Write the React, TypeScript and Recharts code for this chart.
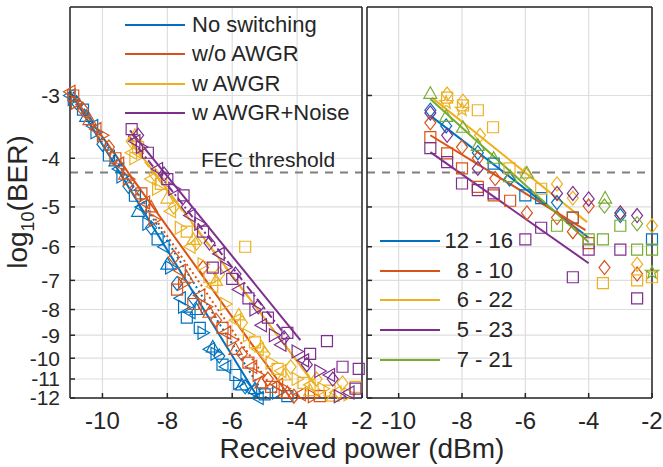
import React from 'react';
import {
  ComposedChart, Scatter, Line, XAxis, YAxis, CartesianGrid, ReferenceLine, Legend,
} from 'recharts';

type Pt = [number, number];

// x = received power (dBm), y = -log10(BER) (axis labels show the negative)
const xTicks = [-10, -8, -6, -4, -2];
const yTicks = [3, 4, 5, 6, 7, 8, 9, 10, 11, 12];
const fecLevel = 4.27;

const leftNames = ['No switching', 'w/o AWGR', 'w AWGR', 'w AWGR+Noise'];
const rightNames = ['12 - 16', '8 - 10', '6 - 22', '5 - 23', '7 - 21'];

const BLUE = '#0072BD';
const ORANGE = '#D95319';
const YELLOW = '#EDB120';
const PURPLE = '#7E2F8E';
const GREEN = '#77AC30';
const leftColors = [BLUE, ORANGE, YELLOW, PURPLE];
const rightColors = [BLUE, ORANGE, YELLOW, PURPLE, GREEN];

// ---- left panel: measured points ----
const noSwTriL: Pt[] = [[-11, 3.0], [-10.3, 3.45], [-9.5, 4.2], [-8.8, 5.0], [-8.1, 6.0], [-7.6, 7.6], [-7.3, 8.1], [-6.7, 9.6], [-6.2, 10.4], [-5.4, 11.6], [-5.2, 12]];
const noSwTriR: Pt[] = [[-10.9, 3.05], [-10.2, 3.55], [-9.4, 4.35], [-8.6, 5.4], [-7.9, 6.6], [-7.5, 7.9], [-6.9, 8.9], [-6.5, 9.8], [-5.8, 11.2], [-4.6, 11.7]];
const noSwDia: Pt[] = [[-10.8, 3.1], [-10.0, 3.75], [-9.2, 4.55], [-8.5, 5.5], [-7.7, 7.1], [-7.2, 7.6], [-6.4, 9.9], [-5.6, 11.4]];
const noSwSq: Pt[] = [[-10.6, 3.2], [-9.8, 3.95], [-9.0, 4.75], [-8.3, 5.8], [-7.4, 8.3], [-7.0, 8.7], [-6.3, 10.3], [-5.9, 10.8], [-5.0, 11.8], [-4.3, 11.9]];
const noSwTriU: Pt[] = [[-10.5, 3.3], [-9.6, 4.05], [-8.9, 5.1], [-8.0, 6.5], [-7.1, 8.0], [-6.6, 9.5], [-5.7, 11.3], [-5.3, 11.5]];

const woTriL: Pt[] = [[-11, 2.95], [-10.2, 3.5], [-9.5, 4.1], [-8.7, 4.9], [-7.6, 6.7], [-7.0, 7.5], [-6.2, 8.9], [-5.4, 10.4], [-4.6, 11.3], [-3.9, 11.8]];
const woTriR: Pt[] = [[-10.8, 3.1], [-10.0, 3.6], [-9.2, 4.4], [-8.4, 5.3], [-7.5, 7.1], [-6.8, 7.9], [-6.0, 9.2], [-5.2, 10.8], [-4.4, 11.5], [-3.5, 11.9]];
const woDia: Pt[] = [[-10.6, 3.2], [-9.8, 3.8], [-9.0, 4.6], [-7.8, 6.3], [-6.9, 6.6], [-6.5, 8.4], [-5.7, 9.8], [-4.9, 11.0], [-4.1, 11.9]];
const woSq: Pt[] = [[-10.9, 3.0], [-9.6, 4.0], [-8.8, 4.7], [-7.7, 7.3], [-7.2, 7.8], [-6.3, 8.7], [-5.5, 10.2], [-4.8, 11.4], [-3.3, 11.9]];
const woTriU: Pt[] = [[-10.4, 3.35], [-9.3, 4.3], [-8.5, 5.0], [-7.4, 6.9], [-6.7, 8.1], [-5.9, 9.6], [-5.1, 11.2], [-4.3, 11.7]];

const wTriL: Pt[] = [[-9.1, 3.9], [-8.5, 4.4], [-7.9, 5.1], [-7.3, 6.0], [-6.6, 7.2], [-5.9, 8.4], [-5.2, 9.6], [-4.5, 10.6], [-3.6, 11.3], [-2.8, 11.7]];
const wTriR: Pt[] = [[-9.0, 4.0], [-8.3, 4.6], [-7.6, 5.5], [-6.9, 6.5], [-6.2, 7.8], [-5.5, 9.0], [-4.8, 10.2], [-4.0, 11.0], [-3.2, 11.5], [-2.4, 11.8]];
const wDia: Pt[] = [[-9.1, 3.7], [-8.4, 4.3], [-7.8, 5.0], [-7.1, 5.9], [-6.4, 6.8], [-5.7, 8.5], [-5.0, 9.8], [-4.2, 10.4], [-3.4, 11.0], [-2.6, 11.2]];
const wSq: Pt[] = [[-8.9, 3.8], [-8.2, 4.5], [-7.4, 5.6], [-6.7, 6.9], [-5.6, 6.0], [-5.3, 9.3], [-4.6, 10.5], [-3.8, 11.2], [-3.0, 11.6], [-2.2, 11.4]];
const wTriU: Pt[] = [[-9.0, 3.6], [-8.0, 4.8], [-7.2, 5.8], [-6.5, 7.0], [-5.8, 8.2], [-5.1, 9.5], [-4.4, 10.8], [-3.6, 11.6], [-2.9, 11.9]];

const nsSq: Pt[] = [[-9.1, 3.5], [-8.6, 3.9], [-8.0, 4.4], [-7.5, 4.74], [-6.9, 5.6], [-6.6, 6.6], [-6.0, 6.95], [-5.5, 7.6], [-4.9, 8.3], [-4.3, 8.9], [-3.6, 9.8], [-3.08, 9.25], [-2.6, 10.4], [-2.1, 10.5], [-2.2, 11.5]];
const nsTriL: Pt[] = [[-9.0, 3.7], [-8.3, 4.2], [-7.3, 5.2], [-6.4, 6.2], [-5.8, 7.3], [-5.1, 8.6], [-4.5, 9.4], [-3.8, 10.1], [-3.0, 10.8], [-2.4, 11.7]];
const nsTriR: Pt[] = [[-8.8, 3.8], [-7.8, 4.6], [-7.0, 5.4], [-6.2, 6.6], [-5.3, 8.0], [-4.7, 9.0], [-4.0, 9.7], [-3.3, 10.6], [-2.7, 11.9]];
const nsDia: Pt[] = [[-8.9, 3.6], [-8.1, 4.3], [-7.4, 5.0], [-6.7, 5.9], [-5.9, 6.8], [-5.2, 7.9], [-4.4, 9.1], [-3.7, 10.3], [-2.9, 11.0]];

// ---- left panel: fits ----
const noSwFitA: Pt[] = [[-11, 2.95], [-5.2, 12]];
const noSwFitB: Pt[] = [[-10.9, 2.95], [-4.95, 12]];
const woFitA: Pt[] = [[-11, 2.95], [-4.2, 12]];
const woFitB: Pt[] = [[-11, 3.0], [-4.55, 12]];
const wFitA: Pt[] = [[-9.2, 3.65], [-3.5, 11.2]];
const wFitB: Pt[] = [[-9.1, 3.75], [-3.3, 11.6]];
const nsFitA: Pt[] = [[-9.15, 3.52], [-3.9, 9.2]];
const nsFitB: Pt[] = [[-9.2, 3.6], [-4.3, 9.1]];

// ---- right panel: measured points ----
const bSq: Pt[] = [[-7.0, 4.1], [-6.0, 4.74], [-5.5, 4.8], [-4.5, 5.25], [-2.0, 5.8]];
const bDia: Pt[] = [[-9.0, 3.21], [-8.5, 3.45], [-7.5, 3.9], [-6.5, 4.4], [-5.0, 4.9], [-3.0, 5.2]];
const oSq: Pt[] = [[-9.0, 3.63], [-8.47, 3.91], [-8.0, 4.19], [-7.5, 4.56], [-7.0, 4.74], [-6.48, 4.86], [-4.0, 5.9], [-4.5, 5.25]];
const oDia: Pt[] = [[-9.0, 3.4], [-8.0, 3.8], [-7.5, 4.0], [-6.95, 4.39], [-5.95, 5.14], [-5.0, 5.25], [-4.5, 5.6], [-4.0, 4.98], [-3.5, 6.6], [-2.47, 6.8]];
const ySq: Pt[] = [[-8.47, 3.03], [-7.97, 3.14], [-7.5, 3.21], [-7.02, 3.47], [-6.5, 4.19], [-5.5, 4.6], [-3.55, 7.09], [-2.47, 7.0], [-2.0, 6.9]];
const yDia: Pt[] = [[-8.47, 2.98], [-7.97, 3.08], [-7.43, 3.6], [-6.0, 4.3], [-5.0, 4.5], [-4.5, 4.8], [-3.0, 5.14], [-2.47, 6.5], [-2.0, 5.45]];
const yStar: Pt[] = [[-8.5, 3.1], [-8.0, 3.2]];
const pSq: Pt[] = [[-9.0, 3.82], [-8.47, 4.07], [-8.0, 4.49], [-7.5, 4.63], [-7.0, 4.7], [-6.0, 5.8], [-5.5, 5.5], [-4.0, 6.08], [-4.5, 6.9], [-3.0, 6.08], [-2.47, 7.6]];
const pDia: Pt[] = [[-9.0, 3.25], [-8.47, 3.6], [-7.5, 4.19], [-5.0, 4.7], [-4.5, 4.7], [-4.0, 4.82], [-3.0, 5.14], [-2.47, 5.2]];
const gTri: Pt[] = [[-9.0, 2.97], [-8.5, 3.3], [-7.97, 3.47], [-7.5, 3.77], [-7.0, 4.0], [-6.48, 4.35], [-5.95, 4.28], [-3.48, 4.8]];
const gSq: Pt[] = [[-5.0, 5.45], [-4.0, 5.8], [-3.55, 5.8], [-3.0, 5.45], [-2.47, 6.08], [-2.0, 6.08]];
const gDia: Pt[] = [[-3.5, 4.98], [-2.47, 5.4]];
const gStar: Pt[] = [[-2.0, 6.75]];

// ---- right panel: fits ----
const bFit: Pt[] = [[-9.0, 3.29], [-4.0, 5.76]];
const oFit: Pt[] = [[-9.0, 3.6], [-4.1, 5.56]];
const yFit: Pt[] = [[-8.95, 3.03], [-4.05, 5.36]];
const pFit: Pt[] = [[-9.0, 3.89], [-4.0, 6.47]];
const gFit: Pt[] = [[-9.0, 3.05], [-4.0, 5.88]];

const leftScatter = [
  { pts: noSwTriL, kind: 'tl', color: BLUE }, { pts: noSwTriR, kind: 'tr', color: BLUE },
  { pts: noSwDia, kind: 'di', color: BLUE }, { pts: noSwSq, kind: 'sq', color: BLUE },
  { pts: noSwTriU, kind: 'tu', color: BLUE },
  { pts: woTriL, kind: 'tl', color: ORANGE }, { pts: woTriR, kind: 'tr', color: ORANGE },
  { pts: woDia, kind: 'di', color: ORANGE }, { pts: woSq, kind: 'sq', color: ORANGE },
  { pts: woTriU, kind: 'tu', color: ORANGE },
  { pts: wTriL, kind: 'tl', color: YELLOW }, { pts: wTriR, kind: 'tr', color: YELLOW },
  { pts: wDia, kind: 'di', color: YELLOW }, { pts: wSq, kind: 'sq', color: YELLOW },
  { pts: wTriU, kind: 'tu', color: YELLOW },
  { pts: nsSq, kind: 'sq', color: PURPLE }, { pts: nsTriL, kind: 'tl', color: PURPLE },
  { pts: nsTriR, kind: 'tr', color: PURPLE }, { pts: nsDia, kind: 'di', color: PURPLE },
];
const leftFits = [
  { pts: noSwFitA, color: BLUE, dash: undefined }, { pts: noSwFitB, color: BLUE, dash: '2 3' },
  { pts: woFitA, color: ORANGE, dash: undefined }, { pts: woFitB, color: ORANGE, dash: '2 3' },
  { pts: wFitA, color: YELLOW, dash: undefined }, { pts: wFitB, color: YELLOW, dash: '7 4' },
  { pts: nsFitA, color: PURPLE, dash: undefined }, { pts: nsFitB, color: PURPLE, dash: '8 3 2 3' },
];
const rightScatter = [
  { pts: bSq, kind: 'sq', color: BLUE }, { pts: bDia, kind: 'di', color: BLUE },
  { pts: oSq, kind: 'sq', color: ORANGE }, { pts: oDia, kind: 'di', color: ORANGE },
  { pts: ySq, kind: 'sq', color: YELLOW }, { pts: yDia, kind: 'di', color: YELLOW },
  { pts: yStar, kind: 'pg', color: YELLOW },
  { pts: pSq, kind: 'sq', color: PURPLE }, { pts: pDia, kind: 'di', color: PURPLE },
  { pts: gTri, kind: 'tu', color: GREEN }, { pts: gSq, kind: 'sq', color: GREEN },
  { pts: gDia, kind: 'di', color: GREEN }, { pts: gStar, kind: 'pg', color: GREEN },
];
const rightFits = [
  { pts: bFit, color: BLUE }, { pts: oFit, color: ORANGE }, { pts: yFit, color: YELLOW },
  { pts: pFit, color: PURPLE }, { pts: gFit, color: GREEN },
];

const toRows = (pts: Pt[]) => pts.map(([x, y]) => ({ x, y }));

const INK = '#262626';
const FONT = '"Liberation Sans", Arial, sans-serif';
const axisStroke = { stroke: INK, strokeWidth: 1.5 };

function markerPath(kind: string, cx: number, cy: number) {
  switch (kind) {
    case 'sq':
      return `M${cx - 5.5},${cy - 5.5}H${cx + 5.5}V${cy + 5.5}H${cx - 5.5}Z`;
    case 'di':
      return `M${cx},${cy - 7}L${cx + 5.5},${cy}L${cx},${cy + 7}L${cx - 5.5},${cy}Z`;
    case 'tl':
      return `M${cx - 6.5},${cy}L${cx + 5},${cy - 6.5}L${cx + 5},${cy + 6.5}Z`;
    case 'tr':
      return `M${cx + 6.5},${cy}L${cx - 5},${cy - 6.5}L${cx - 5},${cy + 6.5}Z`;
    case 'tu':
      return `M${cx},${cy - 6.5}L${cx + 6.5},${cy + 5}L${cx - 6.5},${cy + 5}Z`;
    default: {
      let d = '';
      for (let i = 0; i < 10; i++) {
        const r = i % 2 ? 2.9 : 7;
        const a = ((-90 + i * 36) * Math.PI) / 180;
        d += `${i ? 'L' : 'M'}${cx + r * Math.cos(a)},${cy + r * Math.sin(a)}`;
      }
      return d + 'Z';
    }
  }
}

const shapeOf = (kind: string, color: string) => (p: any) => {
  if (p.cx == null || p.cy == null) return <g />;
  return <path d={markerPath(kind, p.cx, p.cy)} fill="none" stroke={color} strokeWidth={1.2} />;
};

function YLabel() {
  return (
    <text transform="translate(27,202) rotate(-90)" textAnchor="middle" fontSize={28} fill={INK} fontFamily={FONT}>
      log<tspan fontSize={18} dy={7}>10</tspan>
      <tspan dy={-7}>(BER)</tspan>
    </text>
  );
}

function FecLabel(props: any) {
  const vb = props.viewBox || { x: 0, y: 0 };
  return (
    <text x={vb.x + 198} y={vb.y - 6} textAnchor="middle" fontSize={21} fill={INK} fontFamily={FONT}>
      FEC threshold
    </text>
  );
}

const LeftLegend = () => (
  <div style={{ fontSize: 22, color: INK, fontFamily: FONT }}>
    {leftNames.map((n, i) => (
      <div key={n} style={{ display: 'flex', alignItems: 'center', height: 29.5 }}>
        <svg width={62} height={10}>
          <line x1={0} y1={5} x2={60} y2={5} stroke={leftColors[i]} strokeWidth={2} />
        </svg>
        <span style={{ marginLeft: 5, lineHeight: 1, whiteSpace: 'nowrap' }}>{n}</span>
      </div>
    ))}
  </div>
);

const RightLegend = () => (
  <div style={{ fontSize: 22, color: INK, fontFamily: FONT }}>
    {rightNames.map((n, i) => (
      <div key={n} style={{ display: 'flex', alignItems: 'center', height: 29.7 }}>
        <svg width={60} height={10}>
          <line x1={0} y1={5} x2={60} y2={5} stroke={rightColors[i]} strokeWidth={2} />
        </svg>
        <span style={{ width: 73, textAlign: 'right', lineHeight: 1, whiteSpace: 'nowrap' }}>{n}</span>
      </div>
    ))}
  </div>
);

const xTickStyle = { fontSize: 24, fill: INK, fontFamily: FONT };
const yTickStyle = { fontSize: 21, fill: INK, fontFamily: FONT };
const noLabel = () => '';

export default function App() {
  return (
    <div style={{ position: 'absolute', left: 0, top: 0, width: 663, height: 467, background: '#fff', overflow: 'hidden', fontFamily: FONT }}>
      <div style={{ position: 'absolute', left: 0, top: 0 }}>
        <ComposedChart width={380} height={467} margin={{ top: 6, right: 17, bottom: 39, left: 8 }}>
          <CartesianGrid stroke="#dedede" strokeWidth={1.2} />
          <XAxis type="number" dataKey="x" domain={[-11, -2]} ticks={xTicks} height={30} interval={0}
            tickSize={-5} tickMargin={19} tick={xTickStyle} axisLine={axisStroke} tickLine={axisStroke} />
          <XAxis xAxisId="top" orientation="top" type="number" domain={[-11, -2]} ticks={xTicks} height={1} interval={0}
            tickSize={-5} tickFormatter={noLabel} axisLine={axisStroke} tickLine={axisStroke} />
          <YAxis type="number" dataKey="y" scale="log" domain={[2, 12]} reversed ticks={yTicks} width={62} interval={0}
            tickSize={-5} tickMargin={15} tickFormatter={(v: number) => `-${v}`} tick={yTickStyle}
            axisLine={axisStroke} tickLine={axisStroke} label={<YLabel />} />
          <YAxis yAxisId="right" orientation="right" type="number" scale="log" domain={[2, 12]} reversed ticks={yTicks}
            width={1} interval={0} tickSize={-5} tickFormatter={noLabel} axisLine={axisStroke} tickLine={axisStroke} />
          <ReferenceLine y={fecLevel} stroke="#7f7f7f" strokeWidth={1.8} strokeDasharray="8 7" label={<FecLabel />} />
          {leftScatter.map((s, i) => (
            <Scatter key={`ls${i}`} data={toRows(s.pts)} shape={shapeOf(s.kind, s.color)} isAnimationActive={false} legendType="none" />
          ))}
          {leftFits.map((f, i) => (
            <Line key={`lf${i}`} data={toRows(f.pts)} dataKey="y" stroke={f.color} strokeWidth={2} strokeDasharray={f.dash}
              dot={false} activeDot={false} isAnimationActive={false} legendType="none" />
          ))}
          <Legend layout="vertical" align="center" verticalAlign="middle" content={<LeftLegend />}
            wrapperStyle={{ left: 125, top: 10, width: 240 }} />
        </ComposedChart>
      </div>
      <div style={{ position: 'absolute', left: 365, top: 0 }}>
        <ComposedChart width={298} height={467} margin={{ top: 6, right: 10, bottom: 39, left: 1 }}>
          <CartesianGrid stroke="#dedede" strokeWidth={1.2} />
          <XAxis type="number" dataKey="x" domain={[-11, -2]} ticks={xTicks} height={30} interval={0}
            tickSize={-5} tickMargin={19} tick={xTickStyle} axisLine={axisStroke} tickLine={axisStroke} />
          <XAxis xAxisId="top" orientation="top" type="number" domain={[-11, -2]} ticks={xTicks} height={1} interval={0}
            tickSize={-5} tickFormatter={noLabel} axisLine={axisStroke} tickLine={axisStroke} />
          <YAxis type="number" dataKey="y" scale="log" domain={[2, 12]} reversed ticks={yTicks} width={1} interval={0}
            tickSize={-5} tickFormatter={noLabel} axisLine={axisStroke} tickLine={axisStroke} />
          <YAxis yAxisId="right" orientation="right" type="number" scale="log" domain={[2, 12]} reversed ticks={yTicks}
            width={1} interval={0} tickSize={-5} tickFormatter={noLabel} axisLine={axisStroke} tickLine={axisStroke} />
          <ReferenceLine y={fecLevel} stroke="#7f7f7f" strokeWidth={1.8} strokeDasharray="8 7" />
          {rightScatter.map((s, i) => (
            <Scatter key={`rs${i}`} data={toRows(s.pts)} shape={shapeOf(s.kind, s.color)} isAnimationActive={false} legendType="none" />
          ))}
          {rightFits.map((f, i) => (
            <Line key={`rf${i}`} data={toRows(f.pts)} dataKey="y" stroke={f.color} strokeWidth={2}
              dot={false} activeDot={false} isAnimationActive={false} legendType="none" />
          ))}
          <Legend layout="vertical" align="center" verticalAlign="middle" content={<RightLegend />}
            wrapperStyle={{ left: 15, top: 226, width: 140 }} />
        </ComposedChart>
      </div>
      <div style={{ position: 'absolute', left: 0, top: 437, width: 724, textAlign: 'center', fontSize: 28, lineHeight: '24px', color: INK, whiteSpace: 'nowrap' }}>
        Received power (dBm)
      </div>
    </div>
  );
}
